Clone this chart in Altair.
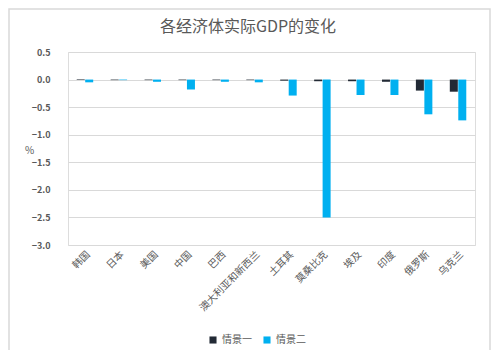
import altair as alt
import pandas as pd

title_text = "各经济体实际GDP的变化"
countries = ["韩国", "日本", "美国", "中国", "巴西", "澳大利亚和新西兰", "土耳其", "莫桑比克", "埃及", "印度", "俄罗斯", "乌克兰"]
scenario1 = [0.01, -0.01, -0.01, -0.01, -0.01, -0.01, -0.02, -0.03, -0.03, -0.04, -0.20, -0.22]
scenario2 = [-0.05, -0.01, -0.04, -0.18, -0.04, -0.05, -0.29, -2.50, -0.28, -0.28, -0.63, -0.74]
series_names = ["情景一", "情景二"]
colors = ["#222A35", "#00B0F0"]

rows = []
for i, c in enumerate(countries):
    rows.append({"国家": c, "情景": series_names[0], "值": scenario1[i]})
    rows.append({"国家": c, "情景": series_names[1], "值": scenario2[i]})
df = pd.DataFrame(rows)

FONT = "Noto Sans CJK SC"
GRAY = "#595959"

bars = alt.Chart(df).mark_bar(size=8).encode(
    x=alt.X("国家:N", sort=countries,
            scale=alt.Scale(paddingInner=0.5, paddingOuter=0.25),
            axis=alt.Axis(title=None, labelAngle=-45, labelFontSize=10, labelColor=GRAY,
                          labelFont=FONT, domain=False, ticks=False, labelPadding=4)),
    xOffset=alt.XOffset("情景:N", sort=series_names),
    y=alt.Y("值:Q", scale=alt.Scale(domain=[-3, 0.5], nice=False),
            axis=alt.Axis(title="%", titleAngle=0, titleFontSize=10, titleFontWeight="normal",
                          titleColor=GRAY, titleFont=FONT, titleX=-39, titleY=98,
                          titleBaseline="middle", titleAlign="center",
                          values=[0.5, 0, -0.5, -1, -1.5, -2, -2.5, -3], format=".1f",
                          labelFontSize=9, labelFontWeight="bold", labelColor=GRAY,
                          labelFont=FONT, domain=False, ticks=False, labelPadding=18,
                          gridColor="#D9D9D9", gridWidth=1)),
    color=alt.Color("情景:N", sort=series_names,
                    scale=alt.Scale(domain=series_names, range=colors),
                    legend=alt.Legend(title=None, orient="none", legendX=140, legendY=283,
                                      direction="horizontal", symbolType="square",
                                      symbolSize=50, labelFontSize=10, labelColor=GRAY,
                                      labelFont=FONT, columnPadding=10, symbolStrokeWidth=0)),
)

frame = alt.Chart(pd.DataFrame({"a": [0]})).mark_rect(
    fill=None, stroke="#D9D9D9", strokeWidth=1.5
).encode(x=alt.value(-59), x2=alt.value(422), y=alt.value(-43), y2=alt.value(300))

title = alt.Chart(pd.DataFrame({"t": [title_text]})).mark_text(
    fontSize=16, font=FONT, color=GRAY, align="center", baseline="middle"
).encode(text="t:N", x=alt.value(180), y=alt.value(-25))

chart = alt.layer(frame, title, bars).properties(
    width=407, height=193,
    autosize=alt.AutoSizeParams(type="none"),
    padding={"left": 60, "top": 44, "right": 17, "bottom": 105},
).configure_view(stroke=None).configure(background="white")

chart.save("out.html", embed_options={"renderer": "svg", "actions": False})
